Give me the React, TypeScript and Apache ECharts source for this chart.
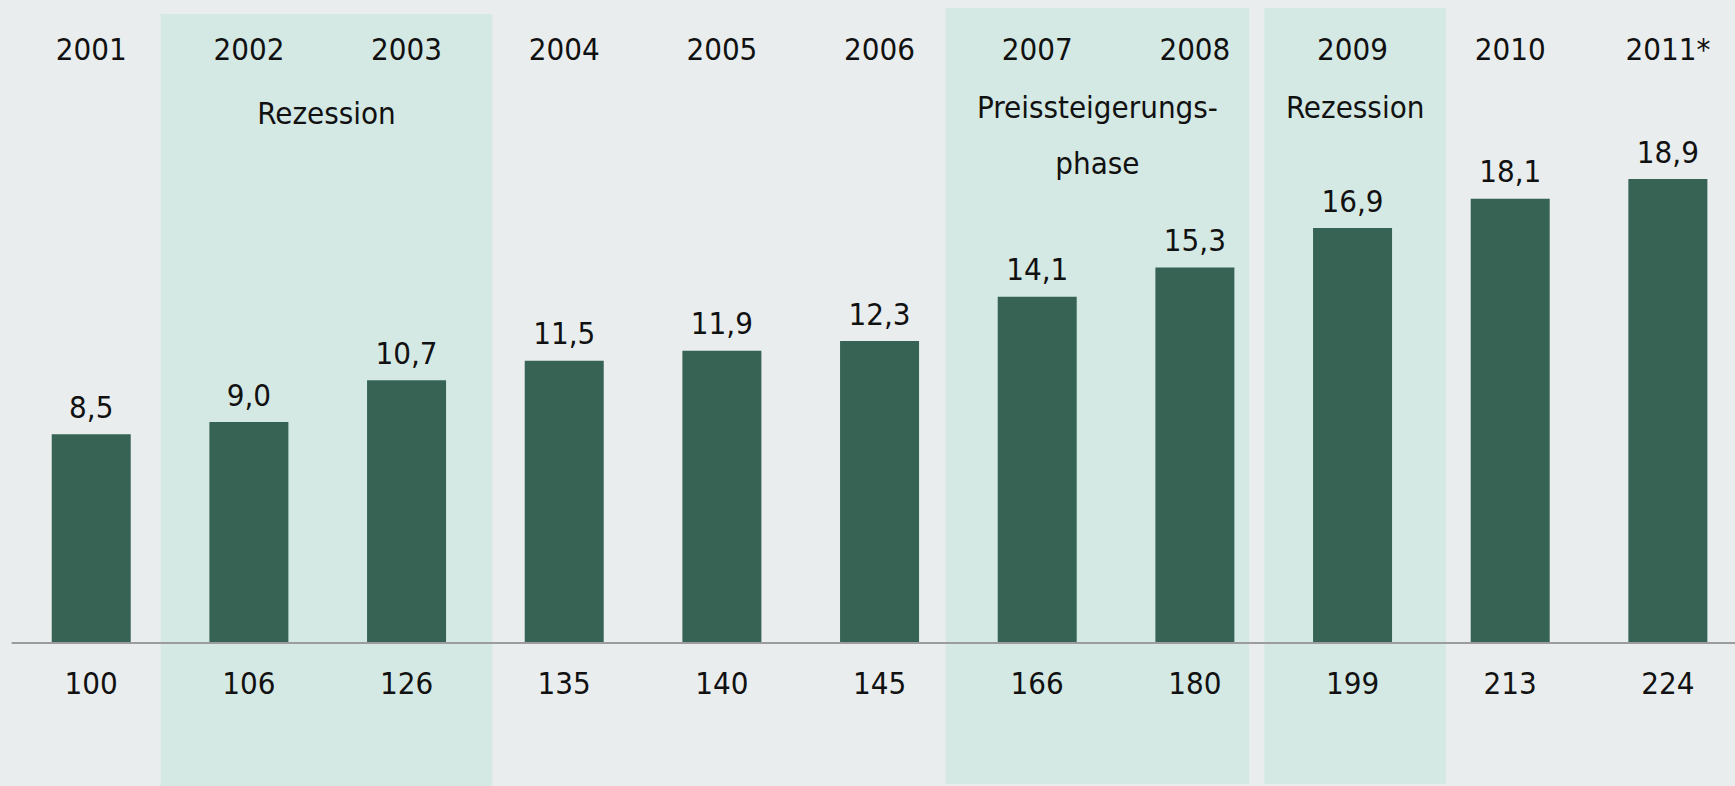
import React, { useEffect, useRef } from "react";
import * as echarts from "echarts";

// ---- data ----
const years = ["2001", "2002", "2003", "2004", "2005", "2006", "2007", "2008", "2009", "2010", "2011*"];
const shares = [8.5, 9.0, 10.7, 11.5, 11.9, 12.3, 14.1, 15.3, 16.9, 18.1, 18.9];
const indexValues = ["100", "106", "126", "135", "140", "145", "166", "180", "199", "213", "224"];
const bandLabels = ["Rezession", "Preissteigerungs-\nphase", "Rezession"];
const bandStart = [0.44, 5.42, 7.44];
const bandEnd = [2.545, 7.344, 8.593];
const bandTop = [25.62, 25.87, 25.87];
const bandBottom = [-5.83, -5.74, -5.74];
const bandLabelDistance = [71, 71, 71];

// ---- layout ----
const W = 1735;
const H = 786;
const ZERO_Y = 643;
const PX_PER_UNIT = 24.55;
const FONT = "'DejaVu Sans Condensed', 'Liberation Sans', sans-serif";

export default function App() {
  const ref = useRef<HTMLDivElement>(null);

  useEffect(() => {
    document.body.style.margin = "0";
    const chart = echarts.init(ref.current!, undefined, { renderer: "svg" });
    const yMax = ZERO_Y / PX_PER_UNIT;
    const yMin = -(H - ZERO_Y) / PX_PER_UNIT;

    chart.setOption({
      animation: false,
      backgroundColor: "#e9eded",
      textStyle: { fontFamily: FONT },
      grid: { left: 12.4, top: 0, width: 1734.3, height: H, outerBoundsMode: "none", containLabel: false },
      xAxis: [
        {
          type: "category",
          data: years,
          position: "bottom",
          offset: -(H - ZERO_Y),
          z: 5,
          axisLine: { onZero: false, lineStyle: { color: "#9c9c9c", width: 2 } },
          axisTick: { show: false },
          axisLabel: {
            margin: 24,
            fontSize: 31,
            color: "#111",
            fontFamily: FONT,
            formatter: (_v: string, i: number) => indexValues[i],
          },
        },
        {
          type: "category",
          data: years,
          position: "top",
          z: 5,
          axisLine: { show: false, onZero: false },
          axisTick: { show: false },
          axisLabel: { inside: true, margin: 33, fontSize: 31, color: "#111", fontFamily: FONT },
        },
        { type: "value", min: -0.5, max: 10.5, show: false },
      ],
      yAxis: { type: "value", min: yMin, max: yMax, show: false, splitLine: { show: false } },
      series: [
        {
          type: "bar",
          xAxisIndex: 0,
          data: shares,
          barWidth: 79,
          z: 3,
          itemStyle: { color: "#366354" },
          label: {
            show: true,
            position: "top",
            distance: 12,
            fontSize: 31,
            color: "#111",
            fontFamily: FONT,
            formatter: (p: any) => p.value.toFixed(1).replace(".", ","),
          },
        },
        {
          type: "line",
          xAxisIndex: 2,
          data: [],
          silent: true,
          markArea: {
            silent: true,
            itemStyle: { color: "#d5e9e4" },
            label: {
              show: true,
              position: "insideTop",
              fontSize: 31,
              lineHeight: 56,
              color: "#111",
              fontFamily: FONT,
            },
            data: bandLabels.map((name, i) => [
              {
                name,
                xAxis: bandStart[i],
                yAxis: bandTop[i],
                label: { distance: bandLabelDistance[i] },
              },
              { xAxis: bandEnd[i], yAxis: bandBottom[i] },
            ]),
          },
        },
      ],
    });
    return () => chart.dispose();
  }, []);

  return <div ref={ref} style={{ position: "fixed", left: 0, top: 0, width: W, height: H }} />;
}
